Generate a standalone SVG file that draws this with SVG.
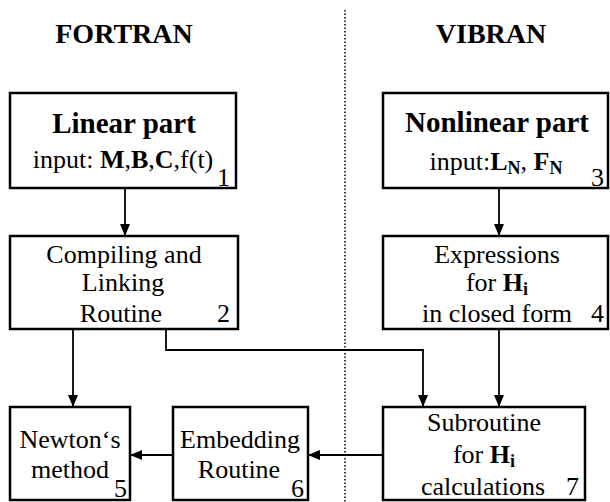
<svg xmlns="http://www.w3.org/2000/svg" width="610" height="502" viewBox="0 0 610 502">
<style>
text{font-family:"Liberation Serif","Times New Roman",serif;fill:#000}
.hd{font-size:28px;font-weight:bold;text-anchor:middle}
.ti{font-size:29px;font-weight:bold;text-anchor:middle}
.tx{font-size:26px;text-anchor:middle}
.num{font-size:26px;text-anchor:start}
.b{font-weight:bold}
.box{fill:#fff;stroke:#000;stroke-width:2.5}
.con{fill:none;stroke:#000;stroke-width:1.8}
</style>
<defs>
<marker id="arr" viewBox="0 0 12 10" refX="12" refY="5" markerWidth="12" markerHeight="10" markerUnits="userSpaceOnUse" orient="auto">
<path d="M0,0 L12,5 L0,10 Z" fill="#000"/>
</marker>
</defs>
<line x1="345" y1="10" x2="345" y2="502" stroke="#000" stroke-width="1.5" stroke-dasharray="1.5,2"/>
<text class="hd" x="124" y="43">FORTRAN</text>
<text class="hd" x="491" y="43">VIBRAN</text>
<g id="connectors">
<path class="con" d="M125,188 V236" marker-end="url(#arr)"/>
<path class="con" d="M499,188 V236" marker-end="url(#arr)"/>
<path class="con" d="M73,329 V407" marker-end="url(#arr)"/>
<path class="con" d="M166,329 V350 H423 V407" marker-end="url(#arr)"/>
<path class="con" d="M499,329 V407" marker-end="url(#arr)"/>
<path class="con" d="M383,455 H308" marker-end="url(#arr)"/>
<path class="con" d="M173,455 H130" marker-end="url(#arr)"/>
</g>
<g id="n1">
<rect class="box" x="10" y="93" width="226" height="95"/>
<text class="ti" x="124" y="133">Linear part</text>
<text class="tx" x="123" y="168">input: <tspan class="b">M</tspan>,<tspan class="b">B</tspan>,<tspan class="b">C</tspan>,f(t)</text>
<text class="num" x="217" y="186">1</text>
</g>
<g id="n3">
<rect class="box" x="383" y="93" width="225" height="95"/>
<text class="ti" x="497" y="132">Nonlinear part</text>
<text class="tx" x="496" y="170">input:<tspan class="b">L</tspan><tspan class="b" font-size="18" dy="4">N</tspan><tspan dy="-4">, </tspan><tspan class="b">F</tspan><tspan class="b" font-size="18" dy="4">N</tspan></text>
<text class="num" x="591" y="186">3</text>
</g>
<g id="n2">
<rect class="box" x="10" y="236" width="228" height="93"/>
<text class="tx" x="124" y="263">Compiling and</text>
<text class="tx" x="123" y="291">Linking</text>
<text class="tx" x="121" y="322">Routine</text>
<text class="num" x="217" y="322">2</text>
</g>
<g id="n4">
<rect class="box" x="383" y="236" width="225" height="93"/>
<text class="tx" x="497" y="263">Expressions</text>
<text class="tx" x="497" y="291">for <tspan class="b">H</tspan><tspan class="b" font-size="18" dy="4">i</tspan></text>
<text class="tx" x="497" y="322">in closed form</text>
<text class="num" x="591" y="322">4</text>
</g>
<g id="n5">
<rect class="box" x="10" y="407" width="120" height="93"/>
<text class="tx" x="70" y="448">Newton‘s</text>
<text class="tx" x="70" y="478">method</text>
<text class="num" x="114" y="497">5</text>
</g>
<g id="n6">
<rect class="box" x="173" y="407" width="135" height="93"/>
<text class="tx" x="240" y="448">Embedding</text>
<text class="tx" x="239" y="478">Routine</text>
<text class="num" x="291" y="497">6</text>
</g>
<g id="n7">
<rect class="box" x="383" y="407" width="202" height="93"/>
<text class="tx" x="484" y="431">Subroutine</text>
<text class="tx" x="484" y="463">for <tspan class="b">H</tspan><tspan class="b" font-size="18" dy="4">i</tspan></text>
<text class="tx" x="483" y="495">calculations</text>
<text class="num" x="566" y="495">7</text>
</g>
</svg>
